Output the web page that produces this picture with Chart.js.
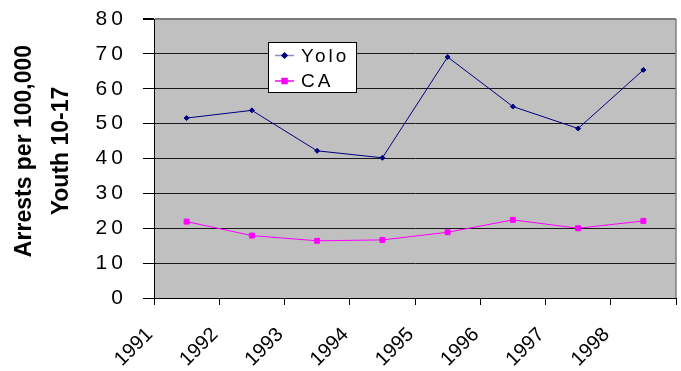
<!DOCTYPE html>
<html>
<head>
<meta charset="utf-8">
<script src="https://cdn.jsdelivr.net/npm/chart.js@4.4.1/dist/chart.umd.min.js"></script>
<style>
  html, body { margin: 0; padding: 0; background: #fff; }
  canvas { display: block; }
</style>
</head>
<body>
<canvas id="c" width="681" height="371"></canvas>
<script>
// Juvenile arrest rates per 100,000 youth aged 10-17
const years = ['1991', '1992', '1993', '1994', '1995', '1996', '1997', '1998'];
const yoloRates = [51.6, 53.8, 42.2, 40.2, 69.1, 54.9, 48.6, 65.4];
const caRates = [21.9, 17.9, 16.4, 16.65, 18.85, 22.4, 20.0, 22.1];
const seriesNames = ['Yolo', 'CA'];
const axisTitleLines = ['Arrests per 100,000', 'Youth 10-17'];

const FONT = "'Liberation Sans', Arial, sans-serif";
Chart.defaults.font.family = FONT;
Chart.defaults.color = '#000';

// Gray plot background and gray right-hand frame line
const plotFrame = {
  id: 'plotFrame',
  beforeDraw(chart) {
    const { ctx, chartArea: a } = chart;
    ctx.save();
    ctx.fillStyle = '#c0c0c0';
    ctx.fillRect(a.left, a.top, a.right - a.left, a.bottom - a.top);
    ctx.restore();
  },
  afterDraw(chart) {
    const { ctx, chartArea: a } = chart;
    ctx.save();
    ctx.strokeStyle = '#808080';
    ctx.lineWidth = 1.5;
    ctx.beginPath();
    ctx.moveTo(a.right, a.top);
    ctx.lineTo(a.right, a.bottom);
    ctx.stroke();
    ctx.restore();
  }
};

// Legend box sitting inside the plot area
const boxedLegend = {
  id: 'boxedLegend',
  afterDraw(chart) {
    const { ctx } = chart;
    const x = 268.5, y = 42.5, w = 88, h = 50;
    ctx.save();
    ctx.fillStyle = '#fff';
    ctx.fillRect(x, y, w, h);
    ctx.strokeStyle = '#000';
    ctx.lineWidth = 1;
    ctx.strokeRect(x, y, w, h);
    chart.data.datasets.forEach((ds, i) => {
      const ry = 55.5 + i * 25.5;
      ctx.strokeStyle = ds.legendLineColor || ds.borderColor;
      ctx.lineWidth = 1.5;
      ctx.beginPath();
      ctx.moveTo(275, ry);
      ctx.lineTo(294, ry);
      ctx.stroke();
      ctx.save();
      ctx.fillStyle = ds.borderColor;
      ctx.strokeStyle = ds.borderColor;
      Chart.helpers.drawPoint(ctx, {
        pointStyle: ds.pointStyle, radius: ds.pointRadius, borderWidth: 1
      }, 284.5, ry);
      ctx.restore();
      ctx.fillStyle = '#000';
      ctx.font = '19px ' + FONT;
      ctx.textBaseline = 'middle';
      ctx.textAlign = 'left';
      if ('letterSpacing' in ctx) ctx.letterSpacing = '3px';
      ctx.fillText(ds.label, 301, ry + 1);
      if ('letterSpacing' in ctx) ctx.letterSpacing = '0px';
    });
    ctx.restore();
  }
};

// Two-line bold y-axis title
const yTitle = {
  id: 'yTitle',
  afterDraw(chart) {
    const { ctx } = chart;
    ctx.save();
    ctx.font = 'bold 23px ' + FONT;
    ctx.fillStyle = '#000';
    ctx.textAlign = 'center';
    ctx.textBaseline = 'middle';
    const xs = [25, 62];
    axisTitleLines.forEach((t, i) => {
      ctx.save();
      ctx.translate(xs[i], 151);
      ctx.rotate(-Math.PI / 2);
      ctx.fillText(t, 0, 0);
      ctx.restore();
    });
    ctx.restore();
  }
};

new Chart(document.getElementById('c'), {
  type: 'line',
  data: {
    labels: years,
    datasets: [
      {
        label: seriesNames[0],
        data: yoloRates,
        borderColor: '#000080',
        backgroundColor: '#000080',
        legendLineColor: '#8c8cc8',
        borderWidth: 1,
        pointStyle: 'rectRot',
        pointRadius: 2.5,
        pointBorderWidth: 1,
        tension: 0,
        fill: false
      },
      {
        label: seriesNames[1],
        data: caRates,
        borderColor: '#ff00ff',
        backgroundColor: '#ff00ff',
        borderWidth: 1,
        pointStyle: 'rect',
        pointRadius: 3.5,
        pointBorderWidth: 1,
        tension: 0,
        fill: false
      }
    ]
  },
  options: {
    responsive: false,
    devicePixelRatio: 1,
    animation: false,
    layout: { padding: { top: 19, right: 4, left: 0, bottom: 0 } },
    plugins: {
      legend: { display: false },
      tooltip: { enabled: false },
      title: { display: false }
    },
    scales: {
      x: {
        type: 'category',
        offset: true,
        afterFit(scale) {
          scale.height = 73;
          scale.paddingLeft = 0;
          scale.paddingRight = 0;
        },
        grid: {
          offset: true,
          drawOnChartArea: false,
          drawTicks: true,
          tickLength: 7,
          color: '#000',
          lineWidth: 1
        },
        border: { color: '#000', width: 1 },
        ticks: {
          autoSkip: false,
          minRotation: 45,
          maxRotation: 45,
          padding: 18,
          labelOffset: -37,
          font: { size: 20 },
          color: '#000'
        }
      },
      y: {
        min: 0,
        max: 80,
        afterFit(scale) {
          scale.width = 154;
          scale.paddingTop = 0;
          scale.paddingBottom = 0;
        },
        grid: {
          color: (c) => (c.tick && c.tick.value === 80 ? '#7a7a7a' : '#1a1a1a'),
          lineWidth: (c) => (c.tick && c.tick.value === 80 ? 2 : 1),
          tickColor: '#000',
          tickLength: 11,
          drawTicks: true
        },
        border: { color: '#000', width: 1 },
        ticks: {
          stepSize: 10,
          padding: 20,
          font: { size: 21 },
          color: '#000',
          callback: (v) => String(v).split('').join('\u2009')
        }
      }
    }
  },
  plugins: [plotFrame, boxedLegend, yTitle]
});
</script>
</body>
</html>
